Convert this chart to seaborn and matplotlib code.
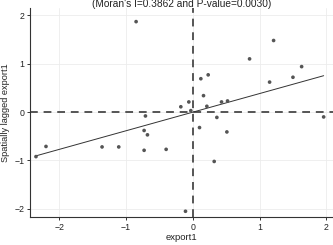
import matplotlib
matplotlib.use("Agg")
import matplotlib.pyplot as plt
import seaborn as sns
import pandas as pd

export1 = [-0.85, -0.71, -0.18, -0.06, -0.03, 0.12, 0.23, 0.16, 0.21, 0.36, 0.43, 0.52,
           0.85, 1.15, 1.21, 1.50, 1.63, 1.96,
           -2.35, -2.20, -1.36, -1.11, -0.73, -0.68, -0.73, -0.40, 0.10, 0.51, 0.32, -0.11]
lagged = [1.87, -0.08, 0.11, 0.21, 0.03, 0.69, 0.77, 0.34, 0.12, -0.11, 0.21, 0.23,
          1.10, 0.62, 1.48, 0.72, 0.94, -0.10,
          -0.92, -0.71, -0.72, -0.72, -0.38, -0.47, -0.79, -0.77, -0.32, -0.41, -1.02, -2.05]
title = "(Moran's I=0.3862 and P-value=0.0030)"
xticks = [-2, -1, 0, 1, 2]
yticks = [-2, -1, 0, 1, 2]

df = pd.DataFrame({"export1": export1, "lag": lagged})

sns.set_style("white")
plt.rcParams['font.family'] = ['Liberation Sans', 'DejaVu Sans']

fig = plt.figure(figsize=(3.33, 2.45), dpi=100)
ax = fig.add_axes([0.090, 0.114, 0.910, 0.853])

for v in xticks:
    ax.axvline(v, color="#ececec", lw=0.6, zorder=0)
for v in yticks:
    ax.axhline(v, color="#ececec", lw=0.6, zorder=0)

ax.axvline(0, color="#555555", lw=1.4, ls=(0, (4, 3)), zorder=1)
ax.axhline(0, color="#555555", lw=1.4, ls=(0, (4, 3)), zorder=1)

sns.scatterplot(data=df, x="export1", y="lag", ax=ax, color="#555555", s=7,
                edgecolor="none", zorder=3)
sns.regplot(data=df, x="export1", y="lag", ax=ax, scatter=False, ci=None,
            truncate=True, line_kws=dict(color="#333333", lw=0.7, zorder=2))

ax.set_xlim(-2.44, 2.10)
ax.set_ylim(-2.17, 2.15)
ax.set_xticks(xticks)
ax.set_yticks(yticks)
ax.tick_params(axis="both", labelsize=6.3, length=2.5, width=0.7, direction="out",
               color="#333333", pad=1.5, labelcolor="#222222")
ax.tick_params(bottom=True, left=True)
for s in ["top", "right"]:
    ax.spines[s].set_visible(False)
for s in ["left", "bottom"]:
    ax.spines[s].set_color("#333333")
    ax.spines[s].set_linewidth(0.8)

ax.set_xlabel("export1", fontsize=6.8, color="#222222", labelpad=1)
ax.set_ylabel("Spatially lagged export1", fontsize=6.6, color="#222222", labelpad=3)
fig.text(0.545, 0.963, title, ha="center", va="bottom", fontsize=7.3, color="#222222")

fig.savefig("out.png", dpi=100)
